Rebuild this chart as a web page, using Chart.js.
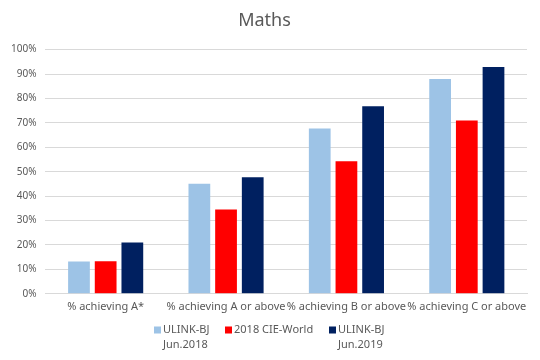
<!DOCTYPE html>
<html>
<head>
<meta charset="utf-8">
<script src="https://cdn.jsdelivr.net/npm/chart.js@4/dist/chart.umd.min.js"></script>
<style>
  html, body { margin: 0; padding: 0; background: #fff; }
  #wrap { width: 540px; height: 360px; position: relative; }
</style>
</head>
<body>
<div id="wrap"><canvas id="chart"></canvas></div>
<script>
var categories = ['% achieving A*', '% achieving A or above', '% achieving B or above', '% achieving C or above'];
var seriesNames = [['ULINK-BJ', 'Jun.2018'], ['2018 CIE-World'], ['ULINK-BJ', 'Jun.2019']];
var ulink2018 = [13.2, 45.1, 67.7, 88.0];
var cieWorld = [13.3, 34.5, 54.3, 71.0];
var ulink2019 = [21.0, 47.7, 76.8, 92.9];
var seriesColors = ['#9dc3e6', '#ff0000', '#002060'];
var yTicks = [0, 10, 20, 30, 40, 50, 60, 70, 80, 90, 100];

var textColor = '#595959';
var fontFamily = '"Noto Sans", "DejaVu Sans", sans-serif';

// legend with two-line labels, drawn under the axis
var legendPlugin = {
    id: 'twoLineLegend',
    afterDraw: function (chart) {
        var ctx = chart.ctx;
        var xs = [154, 225, 329];
        var y = 330;
        ctx.save();
        ctx.font = '11px ' + fontFamily;
        ctx.textBaseline = 'middle';
        ctx.textAlign = 'left';
        chart.data.datasets.forEach(function (ds, i) {
            ctx.fillStyle = ds.backgroundColor;
            ctx.fillRect(xs[i], y - 3.5, 7, 7);
            ctx.fillStyle = textColor;
            ds.legendLines.forEach(function (line, j) {
                ctx.fillText(line, xs[i] + 9, y + j * 15);
            });
        });
        ctx.restore();
    }
};

var datasets = [ulink2018, cieWorld, ulink2019].map(function (vals, i) {
    return {
        label: seriesNames[i].join(' '),
        legendLines: seriesNames[i],
        data: vals,
        backgroundColor: seriesColors[i],
        borderWidth: 0,
        categoryPercentage: 0.665,
        barPercentage: 0.815
    };
});

new Chart(document.getElementById('chart'), {
    type: 'bar',
    data: { labels: categories, datasets: datasets },
    options: {
        responsive: true,
        maintainAspectRatio: false,
        animation: false,
        layout: { padding: { left: 2, right: 13, top: 0, bottom: 41 } },
        plugins: {
            legend: { display: false },
            tooltip: { enabled: false },
            title: {
                display: true,
                text: 'Maths',
                color: textColor,
                font: { family: fontFamily, size: 18, weight: 'normal' },
                padding: { top: 10, bottom: 18 }
            }
        },
        scales: {
            x: {
                grid: { display: false, drawTicks: false },
                border: { color: '#d9d9d9' },
                ticks: {
                    color: textColor,
                    font: { family: fontFamily, size: 11 },
                    maxRotation: 0,
                    autoSkip: false,
                    padding: 6
                }
            },
            y: {
                min: 0,
                max: 100,
                afterBuildTicks: function (axis) {
                    axis.ticks = yTicks.map(function (v) { return { value: v }; });
                },
                grid: { color: '#d9d9d9', drawTicks: false },
                border: { display: false },
                ticks: {
                    color: textColor,
                    font: { family: fontFamily, size: 10 },
                    padding: 9,
                    callback: function (v) { return v + '%'; }
                }
            }
        }
    },
    plugins: [legendPlugin]
});
</script>
</body>
</html>
